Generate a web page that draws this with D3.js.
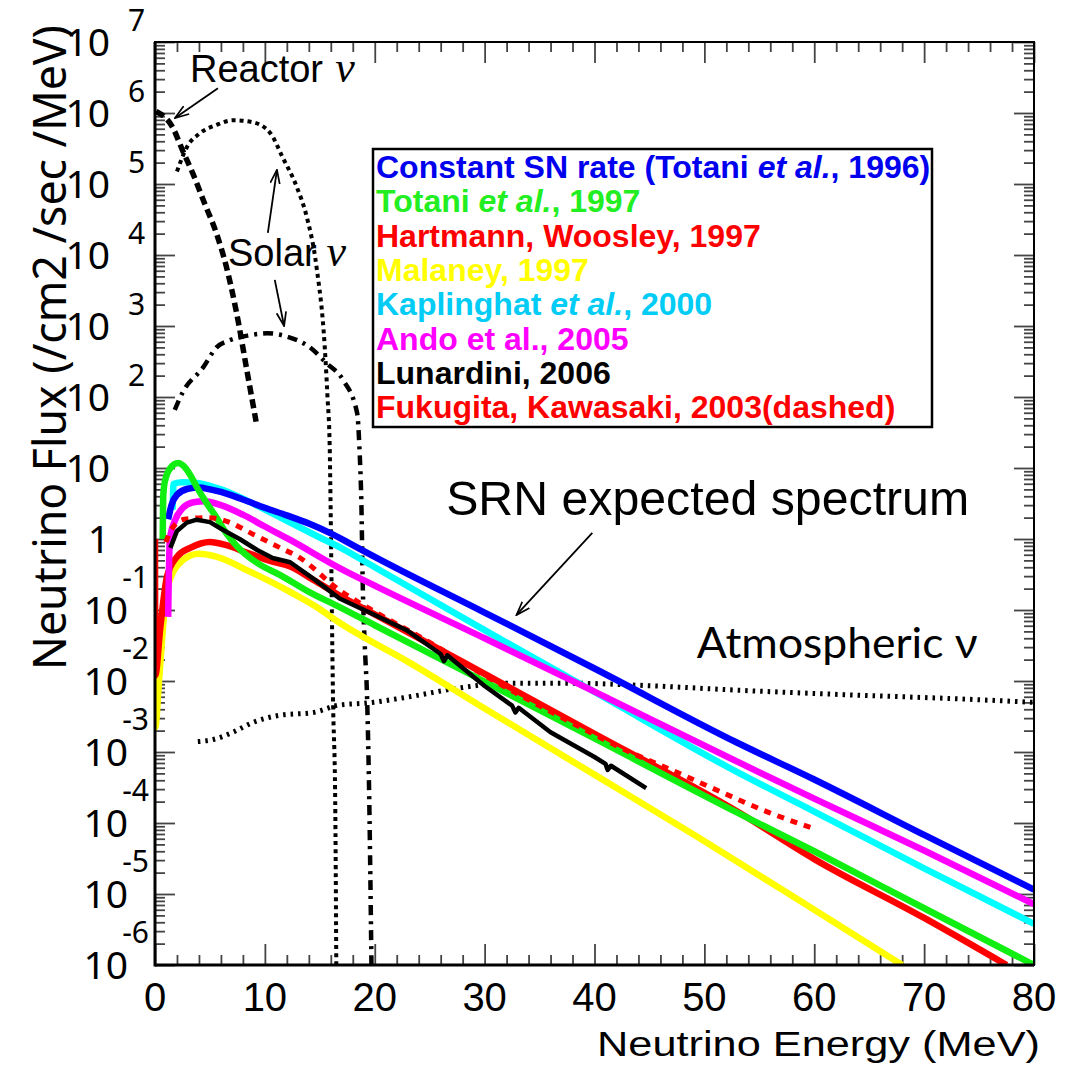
<!DOCTYPE html>
<html><head><meta charset="utf-8">
<script src="https://cdn.jsdelivr.net/npm/d3@7"></script>
<style>body{margin:0;background:#fff} text{white-space:pre}</style>
</head><body>
<svg id="chart" width="1068" height="1066"></svg>
<script>
// ---------- data: [energy MeV, flux /cm2/sec/MeV] ----------
const constantSN = [[1.2,1.9],[1.5,3.0],[2,4.2],[3,5.1],[4,5.3],[5,5.0],[6,4.6],[8,3.6],[10,2.75],[12,2.15],[14,1.65],[16,1.2],[18,0.82],[20,0.56],[30,0.092],[40,0.015],[53,1.35e-3],[60,4.1e-4],[70,6.8e-5],[80,1.15e-5]];
const totani97 = [[0.7,1.0],[0.75,4.0],[0.9,6.5],[1.4,10],[2.1,11.8],[2.6,10.7],[3.2,8.0],[3.8,5.4],[4.7,3.2],[5.6,2.0],[6.5,1.2],[7.5,0.78],[9.3,0.46],[11.4,0.31],[14,0.18],[16.8,0.11],[20,0.061],[30,9.8e-3],[40,1.55e-3],[53,1.4e-4],[60,4e-5],[70,6.3e-6],[80,1e-6]];
const hartmann = [[0,1.0],[0.02,0.012],[0.5,0.06],[1.1,0.3],[2,0.56],[3.2,0.75],[5,0.91],[6.5,0.82],[8.4,0.64],[10.7,0.48],[12.3,0.41],[14.5,0.26],[16.8,0.16],[20,0.087],[30,0.0126],[40,1.8e-3],[53,1.45e-4],[60,3.1e-5],[70,4.6e-6],[77.5,1e-6]];
const malaney = [[0,0.012],[0.02,2.2e-3],[0.4,0.012],[1.1,0.2],[2.5,0.5],[4,0.62],[5.5,0.57],[8.6,0.35],[12,0.19],[14.7,0.11],[16.8,0.066],[23.2,0.018],[30,4.1e-3],[40,4.8e-4],[49.5,6.2e-5],[60,6e-6],[68,1e-6]];
const kaplinghat = [[1.6,2.6],[1.7,6.0],[2.5,6.3],[4,6.1],[5,5.6],[6,5.0],[8,3.7],[10,2.6],[12,1.8],[15,1.05],[17,0.74],[20,0.40],[30,0.052],[40,7e-3],[53,5.2e-4],[60,1.45e-4],[70,2.3e-5],[80,3.8e-6]];
const ando = [[1.2,0.08],[1.35,1.0],[1.8,1.8],[2.5,2.7],[3.5,3.3],[4.5,3.4],[6,3.0],[8,2.2],[10,1.5],[12.3,0.97],[16.8,0.39],[20,0.22],[30,0.040],[40,7.1e-3],[53,7.3e-4],[60,2.2e-4],[70,4.1e-5],[80,7.2e-6]];
const lunardini = [[1.4,0.75],[2,1.3],[2.9,1.7],[3.8,1.87],[5,1.73],[6.2,1.34],[7.7,1.0],[9.3,0.70],[10.7,0.54],[12.3,0.47],[14.5,0.27],[16.8,0.145],[20,0.085],[22.9,0.052],[26,0.024],[26.3,0.019],[26.6,0.023],[30,8.5e-3],[32.5,4.5e-3],[32.8,3.6e-3],[33.1,4.2e-3],[36,1.9e-3],[40,8.5e-4],[41,6.8e-4],[41.2,5.6e-4],[41.5,6.4e-4],[44.7,3.1e-4]];
const fukugita = [[1.0,0.9],[1.4,1.3],[2.7,1.9],[4.8,2.0],[6.4,1.8],[9,1.15],[11.4,0.75],[12.9,0.58],[16.8,0.19],[20,0.095],[25,0.035],[30,0.012],[37.5,2.8e-3],[43.2,1e-3],[47.1,5.5e-4],[51.6,2.7e-4],[55.9,1.4e-4],[59.8,8.5e-5]];
const reactor = [[0.1,1.05e6],[1.6,6.3e5],[2.5,3.0e5],[3.45,1.4e5],[4.5,5.4e4],[5.6,2.0e4],[6.5,6.8e3],[7.4,1.6e3],[8.4,220],[9.2,45]];
const solarHigh = [[2.0,1.5e5],[2.9,3.3e5],[4.1,5.2e5],[5.6,6.8e5],[7.1,7.9e5],[8.9,7.4e5],[10.5,5.2e5],[11.6,2.4e5],[12.9,9.1e4],[13.8,3.5e4],[14.7,6.8e3],[15.45,500],[15.7,100],[15.9,20],[15.95,6.8],[16.1,0.09],[16.2,5.9e-3],[16.4,2.1e-4],[16.5,1e-6]];
const solarLow = [[1.8,66],[2.5,115],[4.4,263],[5.6,500],[6.8,630],[8.6,740],[10.2,790],[12,710],[14.1,500],[15.6,300],[17.1,175],[18.4,59],[18.6,20],[18.8,2.3],[18.9,0.26],[19.1,0.03],[19.3,5.9e-3],[19.5,2.1e-4],[19.7,1e-6]];
const atmospheric = [[3.9,1.4e-3],[5.3,1.5e-3],[7.1,1.9e-3],[8.9,2.6e-3],[11.4,3.3e-3],[14.4,3.6e-3],[16.8,4.6e-3],[19.3,4.9e-3],[22.9,5.9e-3],[27.5,7.9e-3],[32,9.3e-3],[38,9.3e-3],[44.1,8.7e-3],[53.2,7.4e-3],[64.1,6.3e-3],[73.2,5.6e-3],[80,5.0e-3]];

const xTickLabels = [0,10,20,30,40,50,60,70,80];
const yTickExponents = [-6,-5,-4,-3,-2,-1,0,1,2,3,4,5,6,7];

const legendItems = [
  {color:"#0000ee", parts:[["Constant SN rate (Totani ",0],["et al.",1],[", 1996)",0]]},
  {color:"#22ee22", parts:[["Totani ",0],["et al.",1],[", 1997",0]]},
  {color:"#ff0000", parts:[["Hartmann, Woosley, 1997",0]]},
  {color:"#ffff00", parts:[["Malaney, 1997",0]]},
  {color:"#00ccf5", parts:[["Kaplinghat ",0],["et al.",1],[", 2000",0]]},
  {color:"#ff00ff", parts:[["Ando et al., 2005",0]]},
  {color:"#000000", parts:[["Lunardini, 2006",0]]},
  {color:"#ff0000", parts:[["Fukugita, Kawasaki, 2003(dashed)",0]]}
];

// annotations in data coordinates [E, flux]
const annReactor = {text:[3.18, 10**6.44], nu:[16.4, 10**6.44], from:[5.73,10**6.35], to:[1.82,10**5.93]};
const annSolar = {text:[6.64, 10**3.845], nu:[15.6, 10**3.845], arrows:[[[10.27,10**4.31],[11.1,10**5.2]],[[10.9,10**3.65],[11.75,10**3.0]]]};
const annSRN = {text:[26.5, 10**0.338], from:[39.8,10**0.085], to:[32.9,10**-1.07]};
const annAtm = {text:[49.3, 10**-1.676]};

// ---------- drawing ----------
const svg = d3.select("#chart");
const x = d3.scaleLinear().domain([0,80]).range([155,1034]);
const y = d3.scaleLog().domain([1e-6,1e7]).range([965,42]);
const SANS = "'Liberation Sans', Arial, sans-serif";
const NOTO = "'Noto Sans', 'Liberation Sans', sans-serif";

const defs = svg.append("defs");
defs.append("clipPath").attr("id","clip").append("rect")
  .attr("x",x(0)).attr("y",y(1e7)).attr("width",x(80)-x(0)).attr("height",y(1e-6)-y(1e7));
defs.append("marker").attr("id","arrow").attr("viewBox","0 0 14 10").attr("refX",13).attr("refY",5)
  .attr("markerUnits","userSpaceOnUse").attr("markerWidth",15).attr("markerHeight",11).attr("orient","auto")
  .append("path").attr("d","M0,0.5 L13,5 L0,9.5").attr("fill","none").attr("stroke","#000").attr("stroke-width",1.6);

// ticks
function ticks(axisFn, scale, vals, size, tr){
  svg.append("g").attr("transform",tr)
    .call(axisFn(scale).tickValues(vals).tickSize(size).tickFormat(""))
    .call(g=>g.select(".domain").remove())
    .selectAll("line").attr("stroke","#444").attr("stroke-width",1.8);
}
const xMajor = d3.range(0,81,10), xMinor = d3.range(0,81,2).filter(v=>v%10!==0);
const yMajor = yTickExponents.map(k=>+("1e"+k));
const yMinor = [];
for(let k=-6;k<7;k++) for(let m=2;m<=9;m++) yMinor.push(+(m+"e"+k));
ticks(d3.axisBottom,x,xMajor,-21,`translate(0,${y(1e-6)})`);
ticks(d3.axisBottom,x,xMinor,-10,`translate(0,${y(1e-6)})`);
ticks(d3.axisTop,x,xMajor,-21,`translate(0,${y(1e7)})`);
ticks(d3.axisTop,x,xMinor,-10,`translate(0,${y(1e7)})`);
ticks(d3.axisLeft,y,yMajor,-20,`translate(${x(0)},0)`);
ticks(d3.axisLeft,y,yMinor,-10,`translate(${x(0)},0)`);
ticks(d3.axisRight,y,yMajor,-20,`translate(${x(80)},0)`);
ticks(d3.axisRight,y,yMinor,-10,`translate(${x(80)},0)`);

// curves
const line = d3.line().x(d=>x(d[0])).y(d=>y(d[1])).curve(d3.curveMonotoneX);
const lineStraight = d3.line().x(d=>x(d[0])).y(d=>y(d[1]));
const plot = svg.append("g").attr("clip-path","url(#clip)");
function curve(data, color, width, dash, gen){
  plot.append("path").datum(data).attr("d",gen||line).attr("fill","none")
    .attr("stroke",color).attr("stroke-width",width)
    .attr("stroke-linejoin","round").attr("stroke-dasharray",dash||null);
}
curve(atmospheric,"#000",5,"2.5,5");
curve(reactor,"#000",5.5,"9,5");
curve(solarHigh,"#000",4,"4,4");
curve(solarLow,"#000",4.5,"10,6,3,6");
curve(malaney,"#ffff00",6.5);
curve(hartmann,"#ff0000",6.5);
curve(kaplinghat,"#00ffff",6.5);
curve(ando,"#ff00ff",6.5);
curve(constantSN,"#0000ff",6.5);
curve(totani97,"#11ee11",6.5);
curve(fukugita,"#ff0000",5,"7,7");
curve(lunardini,"#000",4.5,null,lineStraight);

// frame
svg.append("rect").attr("x",x(0)).attr("y",y(1e7)).attr("width",x(80)-x(0)).attr("height",y(1e-6)-y(1e7))
  .attr("fill","none").attr("stroke","#000").attr("stroke-width",2);
svg.append("line").attr("x1",x(0)).attr("x2",x(0)).attr("y1",y(1e7)).attr("y2",y(1e-6)+1.5).attr("stroke","#000").attr("stroke-width",3);
svg.append("line").attr("x1",x(0)).attr("x2",x(80)).attr("y1",y(1e-6)).attr("y2",y(1e-6)).attr("stroke","#000").attr("stroke-width",3);

// x tick labels
svg.append("g").selectAll("text").data(xTickLabels).join("text")
  .attr("x",d=>x(d)).attr("y",y(1e-6)+46).attr("text-anchor","middle")
  .attr("font-family",SANS).attr("font-size",40).attr("fill","#000").text(d=>d);

// y tick labels
const yl = svg.append("g").attr("font-family",NOTO).attr("fill","#000");
yTickExponents.forEach(k=>{
  const ty = y(+("1e"+k));
  if(k===0){ yl.append("text").attr("x",110).attr("y",ty+14).attr("text-anchor","end").attr("font-size",39).text("1"); }
  else if(k===1){ yl.append("text").attr("x",110).attr("y",ty+14).attr("text-anchor","end").attr("font-size",39).text("10"); }
  else if(k>1){
    yl.append("text").attr("x",110).attr("y",ty+14).attr("text-anchor","end").attr("font-size",39).text("10");
    yl.append("text").attr("x",128).attr("y",ty-11).attr("text-anchor","start").attr("font-size",30).text(k);
  } else {
    yl.append("text").attr("x",128).attr("y",ty+14).attr("text-anchor","end").attr("font-size",39).text("10");
    yl.append("text").attr("x",149).attr("y",ty-22).attr("text-anchor","end").attr("font-size",30).text(k);
  }
});

// axis titles
svg.append("text").attr("transform","translate(66,670) rotate(-90)")
  .attr("font-family",NOTO).attr("font-size",46).attr("textLength",645).attr("lengthAdjust","spacingAndGlyphs")
  .text("Neutrino Flux (/cm2 /sec /MeV)");
svg.append("text").attr("x",597).attr("y",1056)
  .attr("font-family",SANS).attr("font-size",35).attr("textLength",443).attr("lengthAdjust","spacingAndGlyphs")
  .text("Neutrino Energy (MeV)");

// annotations
function arrow(a,b){
  svg.append("line").attr("x1",x(a[0])).attr("y1",y(a[1])).attr("x2",x(b[0])).attr("y2",y(b[1]))
    .attr("stroke","#000").attr("stroke-width",1.8).attr("marker-end","url(#arrow)");
}
svg.append("text").attr("x",x(annReactor.text[0])).attr("y",y(annReactor.text[1]))
  .attr("font-family",SANS).attr("font-size",38).text("Reactor");
svg.append("text").attr("x",x(annReactor.nu[0])).attr("y",y(annReactor.nu[1]))
  .attr("font-family","'Liberation Serif', serif").attr("font-style","italic").attr("font-size",44).text("ν");
arrow(annReactor.from, annReactor.to);
svg.append("text").attr("x",x(annSolar.text[0])).attr("y",y(annSolar.text[1]))
  .attr("font-family",SANS).attr("font-size",38).text("Solar");
svg.append("text").attr("x",x(annSolar.nu[0])).attr("y",y(annSolar.nu[1]))
  .attr("font-family","'Liberation Serif', serif").attr("font-style","italic").attr("font-size",44).text("ν");
annSolar.arrows.forEach(p=>arrow(p[0],p[1]));
svg.append("text").attr("x",x(annSRN.text[0])).attr("y",y(annSRN.text[1]))
  .attr("font-family",SANS).attr("font-size",48).attr("textLength",523).attr("lengthAdjust","spacingAndGlyphs")
  .text("SRN expected spectrum");
arrow(annSRN.from, annSRN.to);
svg.append("text").attr("x",x(annAtm.text[0])).attr("y",y(annAtm.text[1]))
  .attr("font-family","Lato, 'Noto Sans', sans-serif").attr("font-size",42).attr("textLength",281).attr("lengthAdjust","spacingAndGlyphs")
  .text("Atmospheric ν");

// legend
const lg = svg.append("g");
lg.append("rect").attr("x",373).attr("y",149).attr("width",559).attr("height",278)
  .attr("fill","#fff").attr("stroke","#000").attr("stroke-width",2.5);
legendItems.forEach((it,i)=>{
  const t = lg.append("text").attr("x",376).attr("y",178+i*34.3)
    .attr("font-family",SANS).attr("font-weight","bold").attr("font-size",32).attr("fill",it.color);
  it.parts.forEach(p=>{
    const ts = t.append("tspan").text(p[0]);
    if(p[1]) ts.attr("font-style","italic");
  });
});
</script>
</body></html>
